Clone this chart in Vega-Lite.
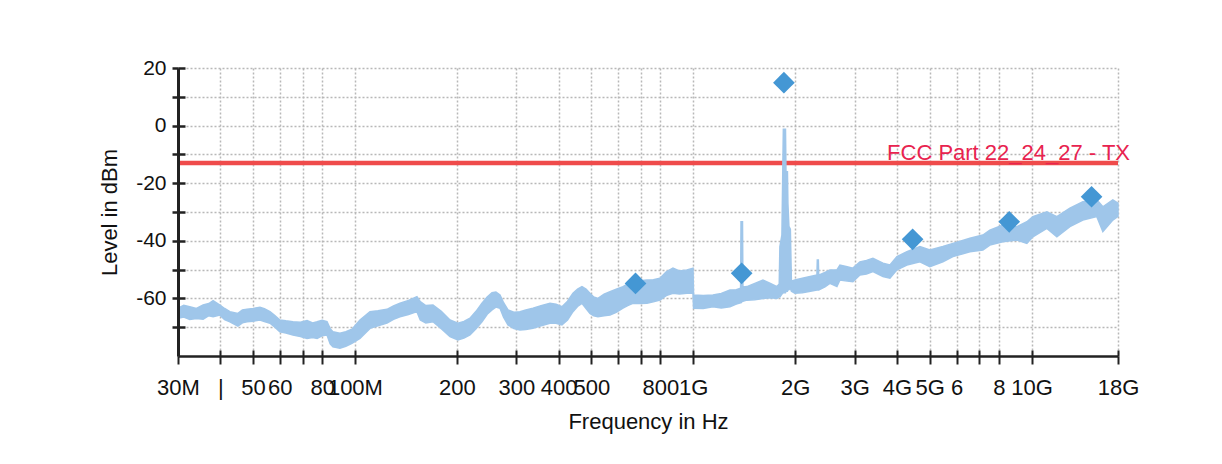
{
  "$schema": "https://vega.github.io/schema/vega-lite/v6.json",
  "width": 940,
  "height": 288,
  "autosize": "none",
  "padding": {"left": 178, "top": 68, "right": 104, "bottom": 108},
  "background": "white",
  "config": {"font": "Liberation Sans", "view": {"stroke": null}},
  "datasets": {
    "band": [
      {"MHz": 30.0, "top": -63.4, "bottom": -66.9},
      {"MHz": 31.2, "top": -62.4, "bottom": -66.5},
      {"MHz": 32.5, "top": -62.9, "bottom": -67.3},
      {"MHz": 34.0, "top": -63.5, "bottom": -67.0},
      {"MHz": 35.6, "top": -62.3, "bottom": -67.2},
      {"MHz": 37.0, "top": -61.8, "bottom": -66.0},
      {"MHz": 38.1, "top": -60.8, "bottom": -66.4},
      {"MHz": 39.9, "top": -62.3, "bottom": -65.8},
      {"MHz": 41.2, "top": -63.5, "bottom": -67.4},
      {"MHz": 42.7, "top": -64.6, "bottom": -68.1},
      {"MHz": 45.1, "top": -65.2, "bottom": -69.6},
      {"MHz": 46.5, "top": -64.0, "bottom": -68.5},
      {"MHz": 48.0, "top": -63.8, "bottom": -68.1},
      {"MHz": 50.0, "top": -63.5, "bottom": -67.9},
      {"MHz": 52.4, "top": -63.1, "bottom": -67.5},
      {"MHz": 54.0, "top": -63.6, "bottom": -68.0},
      {"MHz": 56.1, "top": -64.6, "bottom": -68.6},
      {"MHz": 58.0, "top": -66.0, "bottom": -70.0},
      {"MHz": 60.0, "top": -67.5, "bottom": -71.6},
      {"MHz": 62.5, "top": -67.8, "bottom": -72.0},
      {"MHz": 65.6, "top": -68.1, "bottom": -72.7},
      {"MHz": 69.0, "top": -68.3, "bottom": -73.2},
      {"MHz": 72.2, "top": -67.7, "bottom": -73.9},
      {"MHz": 75.0, "top": -68.5, "bottom": -73.6},
      {"MHz": 77.3, "top": -68.1, "bottom": -73.9},
      {"MHz": 80.0, "top": -67.6, "bottom": -73.0},
      {"MHz": 82.7, "top": -68.1, "bottom": -72.7},
      {"MHz": 84.5, "top": -70.5, "bottom": -75.8},
      {"MHz": 86.1, "top": -71.6, "bottom": -76.8},
      {"MHz": 90.3, "top": -72.1, "bottom": -77.3},
      {"MHz": 94.0, "top": -71.6, "bottom": -76.6},
      {"MHz": 98.0, "top": -70.7, "bottom": -75.6},
      {"MHz": 103.5, "top": -67.5, "bottom": -73.9},
      {"MHz": 110.8, "top": -64.6, "bottom": -70.4},
      {"MHz": 117.0, "top": -64.3, "bottom": -69.5},
      {"MHz": 124.4, "top": -63.8, "bottom": -68.6},
      {"MHz": 130.0, "top": -62.6, "bottom": -67.3},
      {"MHz": 135.9, "top": -61.7, "bottom": -66.4},
      {"MHz": 144.0, "top": -60.7, "bottom": -65.6},
      {"MHz": 152.5, "top": -59.4, "bottom": -64.6},
      {"MHz": 156.0, "top": -61.1, "bottom": -67.5},
      {"MHz": 162.0, "top": -62.5, "bottom": -68.5},
      {"MHz": 170.1, "top": -62.3, "bottom": -68.1},
      {"MHz": 180.0, "top": -64.5, "bottom": -70.5},
      {"MHz": 191.0, "top": -67.5, "bottom": -73.3},
      {"MHz": 201.6, "top": -68.6, "bottom": -74.4},
      {"MHz": 210.0, "top": -68.0, "bottom": -73.8},
      {"MHz": 218.8, "top": -66.9, "bottom": -72.7},
      {"MHz": 228.0, "top": -64.5, "bottom": -70.5},
      {"MHz": 237.4, "top": -61.7, "bottom": -68.1},
      {"MHz": 246.0, "top": -59.5, "bottom": -65.5},
      {"MHz": 254.2, "top": -58.0, "bottom": -64.0},
      {"MHz": 261.0, "top": -57.8, "bottom": -63.0},
      {"MHz": 268.4, "top": -58.8, "bottom": -63.4},
      {"MHz": 275.0, "top": -61.5, "bottom": -66.5},
      {"MHz": 283.4, "top": -64.0, "bottom": -69.2},
      {"MHz": 295.0, "top": -64.8, "bottom": -70.5},
      {"MHz": 307.4, "top": -64.6, "bottom": -71.0},
      {"MHz": 320.0, "top": -64.0, "bottom": -70.8},
      {"MHz": 335.9, "top": -63.4, "bottom": -70.4},
      {"MHz": 355.0, "top": -62.5, "bottom": -69.5},
      {"MHz": 377.1, "top": -61.7, "bottom": -68.6},
      {"MHz": 393.0, "top": -62.0, "bottom": -68.6},
      {"MHz": 409.1, "top": -62.9, "bottom": -69.2},
      {"MHz": 425.0, "top": -61.0, "bottom": -67.5},
      {"MHz": 441.0, "top": -58.2, "bottom": -64.6},
      {"MHz": 455.0, "top": -56.8, "bottom": -62.8},
      {"MHz": 468.8, "top": -55.9, "bottom": -61.7},
      {"MHz": 482.0, "top": -56.8, "bottom": -63.5},
      {"MHz": 495.0, "top": -58.2, "bottom": -65.2},
      {"MHz": 508.0, "top": -59.5, "bottom": -66.0},
      {"MHz": 522.7, "top": -60.0, "bottom": -66.4},
      {"MHz": 545.0, "top": -58.5, "bottom": -66.0},
      {"MHz": 567.2, "top": -57.7, "bottom": -65.8},
      {"MHz": 592.0, "top": -56.8, "bottom": -64.8},
      {"MHz": 619.7, "top": -55.9, "bottom": -63.4},
      {"MHz": 640.0, "top": -55.0, "bottom": -62.5},
      {"MHz": 663.3, "top": -54.2, "bottom": -61.7},
      {"MHz": 695.0, "top": -53.9, "bottom": -61.8},
      {"MHz": 729.5, "top": -53.6, "bottom": -61.7},
      {"MHz": 762.0, "top": -53.5, "bottom": -61.2},
      {"MHz": 797.0, "top": -53.0, "bottom": -60.6},
      {"MHz": 832.0, "top": -50.8, "bottom": -59.0},
      {"MHz": 870.8, "top": -49.5, "bottom": -58.2},
      {"MHz": 910.0, "top": -50.5, "bottom": -58.5},
      {"MHz": 957.7, "top": -50.1, "bottom": -58.2},
      {"MHz": 998.0, "top": -49.5, "bottom": -58.2},
      {"MHz": 1002.0, "top": -58.8, "bottom": -63.4},
      {"MHz": 1070.0, "top": -59.0, "bottom": -63.5},
      {"MHz": 1143.0, "top": -58.8, "bottom": -62.9},
      {"MHz": 1210.0, "top": -58.3, "bottom": -63.3},
      {"MHz": 1284.0, "top": -57.1, "bottom": -62.9},
      {"MHz": 1340.0, "top": -57.0, "bottom": -62.0},
      {"MHz": 1380.0, "top": -56.5, "bottom": -61.5},
      {"MHz": 1384.0, "top": -33.4, "bottom": -61.5},
      {"MHz": 1398.0, "top": -33.4, "bottom": -61.0},
      {"MHz": 1402.0, "top": -56.0, "bottom": -61.0},
      {"MHz": 1440.7, "top": -55.9, "bottom": -60.6},
      {"MHz": 1520.0, "top": -54.8, "bottom": -60.5},
      {"MHz": 1606.8, "top": -53.6, "bottom": -60.0},
      {"MHz": 1690.0, "top": -54.8, "bottom": -59.8},
      {"MHz": 1767.0, "top": -55.9, "bottom": -60.0},
      {"MHz": 1795.0, "top": -55.0, "bottom": -59.5},
      {"MHz": 1803.0, "top": -42.0, "bottom": -59.5},
      {"MHz": 1828.0, "top": -38.0, "bottom": -58.5},
      {"MHz": 1846.0, "top": -1.3, "bottom": -58.0},
      {"MHz": 1873.0, "top": -1.3, "bottom": -58.0},
      {"MHz": 1879.0, "top": -16.0, "bottom": -57.5},
      {"MHz": 1898.0, "top": -16.0, "bottom": -57.5},
      {"MHz": 1904.0, "top": -27.0, "bottom": -57.0},
      {"MHz": 1917.0, "top": -35.0, "bottom": -57.0},
      {"MHz": 1936.0, "top": -36.0, "bottom": -56.5},
      {"MHz": 1950.0, "top": -54.0, "bottom": -57.5},
      {"MHz": 1997.0, "top": -53.6, "bottom": -58.2},
      {"MHz": 2100.0, "top": -53.0, "bottom": -58.0},
      {"MHz": 2200.0, "top": -52.5, "bottom": -57.6},
      {"MHz": 2320.0, "top": -51.9, "bottom": -57.1},
      {"MHz": 2326.0, "top": -46.7, "bottom": -57.1},
      {"MHz": 2342.0, "top": -46.7, "bottom": -57.1},
      {"MHz": 2348.0, "top": -51.9, "bottom": -57.1},
      {"MHz": 2450.0, "top": -51.0, "bottom": -56.0},
      {"MHz": 2534.0, "top": -50.1, "bottom": -54.8},
      {"MHz": 2658.0, "top": -50.1, "bottom": -55.9},
      {"MHz": 2713.0, "top": -48.4, "bottom": -53.6},
      {"MHz": 2850.0, "top": -49.0, "bottom": -54.0},
      {"MHz": 2963.0, "top": -49.5, "bottom": -54.2},
      {"MHz": 3108.0, "top": -47.3, "bottom": -51.9},
      {"MHz": 3250.0, "top": -46.8, "bottom": -51.5},
      {"MHz": 3396.0, "top": -46.1, "bottom": -50.7},
      {"MHz": 3636.0, "top": -47.8, "bottom": -52.4},
      {"MHz": 3813.0, "top": -48.4, "bottom": -53.0},
      {"MHz": 3999.0, "top": -45.5, "bottom": -50.1},
      {"MHz": 4279.0, "top": -43.8, "bottom": -48.4},
      {"MHz": 4675.0, "top": -42.0, "bottom": -47.3},
      {"MHz": 5004.0, "top": -43.2, "bottom": -49.0},
      {"MHz": 5466.0, "top": -42.0, "bottom": -47.3},
      {"MHz": 5853.0, "top": -40.9, "bottom": -45.5},
      {"MHz": 6570.0, "top": -39.1, "bottom": -43.8},
      {"MHz": 7177.0, "top": -38.0, "bottom": -43.2},
      {"MHz": 7526.0, "top": -36.3, "bottom": -41.5},
      {"MHz": 8222.0, "top": -34.5, "bottom": -40.3},
      {"MHz": 9045.0, "top": -35.1, "bottom": -39.7},
      {"MHz": 9681.0, "top": -33.4, "bottom": -40.9},
      {"MHz": 10085.0, "top": -31.6, "bottom": -38.6},
      {"MHz": 11093.0, "top": -29.9, "bottom": -35.7},
      {"MHz": 11874.0, "top": -31.6, "bottom": -38.6},
      {"MHz": 12975.0, "top": -28.7, "bottom": -35.1},
      {"MHz": 14174.0, "top": -26.4, "bottom": -32.8},
      {"MHz": 15587.0, "top": -25.8, "bottom": -31.6},
      {"MHz": 16239.0, "top": -28.2, "bottom": -36.8},
      {"MHz": 17378.0, "top": -25.8, "bottom": -32.8},
      {"MHz": 18000.0, "top": -26.9, "bottom": -31.5}
    ],
    "peaks": [
      {"MHz": 675, "level": -54.8},
      {"MHz": 1390, "level": -51.3},
      {"MHz": 1853, "level": 14.9},
      {"MHz": 4449, "level": -39.5},
      {"MHz": 8586, "level": -33.4},
      {"MHz": 15036, "level": -24.7}
    ],
    "limit": [
      {"f0": 30, "f1": 18000, "level": -13, "name": "FCC Part 22_24_27 - TX"}
    ]
  },
  "layer": [
    {
      "data": {"name": "limit"},
      "mark": {"type": "rule", "color": "#ef4b4b", "strokeWidth": 4.5},
      "encoding": {
        "x": {
          "field": "f0", "type": "quantitative",
          "scale": {"type": "log", "domain": [30, 18000], "nice": false},
          "axis": {
            "values": [30, 40, 50, 60, 70, 80, 100, 200, 300, 400, 500, 600, 700, 800, 1000, 2000, 3000, 4000, 5000, 6000, 7000, 8000, 10000, 18000],
            "grid": true, "domain": false, "ticks": false, "labels": false, "title": null, "zindex": 0,
            "gridColor": "#b8b8b8", "gridDash": [2, 2], "gridWidth": 1.5
          }
        },
        "x2": {"field": "f1"},
        "y": {
          "field": "level", "type": "quantitative",
          "scale": {"domain": [-80, 20], "nice": false, "zero": false},
          "axis": {
            "values": [-70, -60, -50, -40, -30, -20, -10, 0, 10, 20],
            "grid": true, "domain": false, "ticks": false, "labels": false, "title": null, "zindex": 0,
            "gridColor": "#b8b8b8", "gridDash": [2, 2], "gridWidth": 1.5
          }
        }
      }
    },
    {
      "data": {"name": "band"},
      "mark": {"type": "area", "color": "#9fc6ea", "opacity": 1, "stroke": "#9fc6ea", "strokeWidth": 1.5},
      "encoding": {
        "x": {"field": "MHz", "type": "quantitative", "axis": null},
        "y": {"field": "top", "type": "quantitative", "axis": null},
        "y2": {"field": "bottom"}
      }
    },
    {
      "data": {"name": "peaks"},
      "mark": {"type": "point", "shape": "diamond", "filled": true, "size": 470, "color": "#4497d4", "opacity": 1},
      "encoding": {
        "x": {"field": "MHz", "type": "quantitative", "axis": null},
        "y": {"field": "level", "type": "quantitative", "axis": null}
      }
    },
    {
      "data": {"name": "limit"},
      "mark": {"type": "text", "align": "right", "baseline": "alphabetic", "dx": 12, "dy": -3, "fontSize": 22, "color": "#e8234f"},
      "encoding": {
        "x": {"field": "f1", "type": "quantitative", "axis": null},
        "y": {"field": "level", "type": "quantitative", "axis": null},
        "text": {"field": "name"}
      }
    },
    {
      "data": {"name": "peaks"},
      "mark": {"type": "point", "opacity": 0},
      "encoding": {
        "x": {
          "field": "MHz", "type": "quantitative",
          "axis": {
            "orient": "bottom", "zindex": 1, "grid": false,
            "values": [30, 40, 50, 60, 70, 80, 100, 200, 300, 400, 500, 600, 700, 800, 1000, 2000, 3000, 4000, 5000, 6000, 7000, 8000, 10000, 18000],
            "labelExpr": "datum.value==30?'30M':datum.value==40?'|':datum.value==50?'50':datum.value==60?'60':datum.value==80?'80':datum.value==100?'100M':datum.value==200?'200':datum.value==300?'300':datum.value==400?'400':datum.value==500?'500':datum.value==800?'800':datum.value==1000?'1G':datum.value==2000?'2G':datum.value==3000?'3G':datum.value==4000?'4G':datum.value==5000?'5G':datum.value==6000?'6':datum.value==8000?'8':datum.value==10000?'10G':datum.value==18000?'18G':''",
            "labelOverlap": false, "labelFlush": false, "labelFontSize": 22, "labelColor": "#111", "labelPadding": 13,
            "tickSize": 8, "tickWidth": 2, "tickColor": "#222", "domainColor": "#222", "domainWidth": 2.5,
            "title": "Frequency in Hz", "titleFontSize": 22, "titleFontWeight": "normal", "titleColor": "#111", "titlePadding": 13
          }
        },
        "y": {
          "field": "level", "type": "quantitative",
          "axis": {
            "orient": "left", "zindex": 1, "grid": false,
            "values": [-70, -60, -50, -40, -30, -20, -10, 0, 10, 20],
            "labelExpr": "datum.value % 20 == 0 ? '' + datum.value : ''",
            "labelFontSize": 21, "labelColor": "#111", "labelPadding": 6,
            "tickSize": 6, "tickWidth": 2.5, "tickColor": "#222", "domainColor": "#222", "domainWidth": 3,
            "title": "Level in dBm", "titleFontSize": 22, "titleFontWeight": "normal", "titleColor": "#111", "titlePadding": 14
          }
        }
      }
    },
    {
      "data": {"name": "peaks"},
      "mark": {"type": "point", "opacity": 0},
      "encoding": {
        "x": {
          "field": "MHz", "type": "quantitative",
          "axis": {
            "orient": "bottom", "offset": -6, "zindex": 1, "grid": false, "domain": false, "labels": false, "title": null,
            "values": [30, 40, 50, 60, 70, 80, 100, 200, 300, 400, 500, 600, 700, 800, 1000, 2000, 3000, 4000, 5000, 6000, 7000, 8000, 10000, 18000],
            "tickSize": 6, "tickWidth": 2, "tickColor": "#222"
          }
        },
        "y": {
          "field": "level", "type": "quantitative",
          "axis": {
            "orient": "left", "offset": -7, "zindex": 1, "grid": false, "domain": false, "labels": false, "title": null,
            "values": [-70, -60, -50, -40, -30, -20, -10, 0, 10, 20],
            "tickSize": 7, "tickWidth": 2.5, "tickColor": "#222"
          }
        }
      }
    }
  ],
  "resolve": {"axis": {"x": "independent", "y": "independent"}}
}
